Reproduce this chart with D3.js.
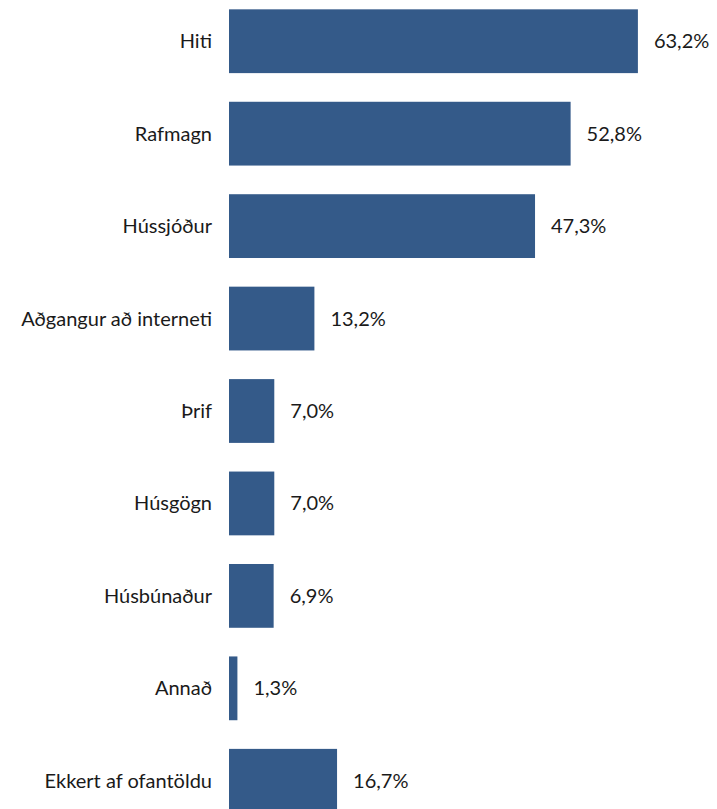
<!DOCTYPE html>
<html><head><meta charset="utf-8">
<script src="https://cdn.jsdelivr.net/npm/d3@7"></script>
<style>body{margin:0;background:#fff}svg{display:block}</style>
</head><body>
<script>
const categories = ["Hiti","Rafmagn","Hússjóður","Aðgangur að interneti","Þrif","Húsgögn","Húsbúnaður","Annað","Ekkert af ofantöldu"];
const values = [63.2,52.8,47.3,13.2,7.0,7.0,6.9,1.3,16.7];
const valueLabels = ["63,2%","52,8%","47,3%","13,2%","7,0%","7,0%","6,9%","1,3%","16,7%"];

const W = 717, H = 809;
const svg = d3.select("body").append("svg").attr("width", W).attr("height", H);
const x = d3.scaleLinear().domain([0, 100]).range([229, 876]);
const y = d3.scaleBand().domain(categories).range([-5, 827]).paddingInner(0.31).paddingOuter(0.155);
const font = "Lato, 'Open Sans', sans-serif";

svg.selectAll("rect.bar").data(categories).join("rect")
  .attr("class","bar")
  .attr("x", x(0))
  .attr("y", d => y(d))
  .attr("width", (d,i) => x(values[i]) - x(0))
  .attr("height", y.bandwidth())
  .attr("fill", "#345a89");

svg.selectAll("text.cat").data(categories).join("text")
  .attr("class","cat")
  .attr("x", 212)
  .attr("y", d => y(d) + y.bandwidth()/2)
  .attr("dy", "0.35em")
  .attr("text-anchor","end")
  .attr("font-family", font)
  .attr("font-size", 20)
  .attr("fill", "#1a1a1a")
  .text(d => d);

svg.selectAll("text.val").data(categories).join("text")
  .attr("class","val")
  .attr("x", (d,i) => x(values[i]) + 16)
  .attr("y", d => y(d) + y.bandwidth()/2)
  .attr("dy", "0.35em")
  .attr("font-family", font)
  .attr("font-size", 20)
  .attr("fill", "#1a1a1a")
  .text((d,i) => valueLabels[i]);
</script>
</body></html>
